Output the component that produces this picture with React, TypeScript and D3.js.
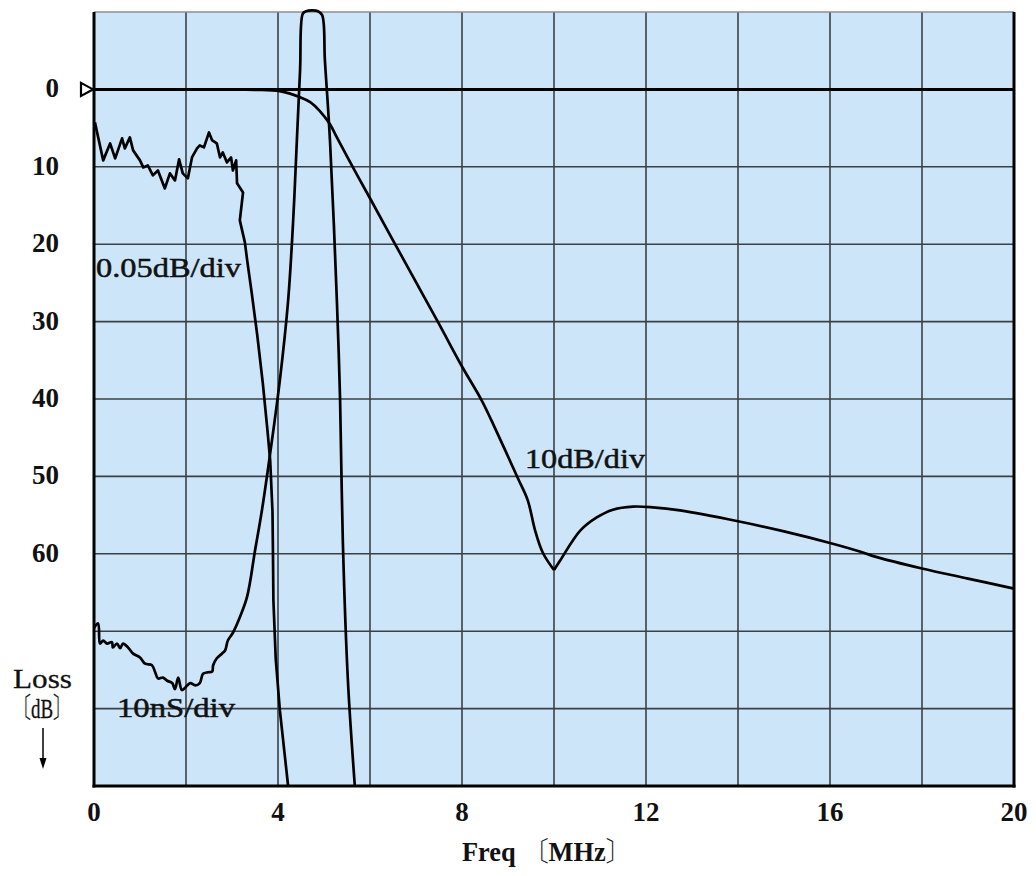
import React from "react";
import * as d3 from "d3";

// ---------- data ----------
const freqTickLabels = [0, 4, 8, 12, 16, 20];
const lossTickLabels = [0, 10, 20, 30, 40, 50, 60];
const gridFreq = [0, 2, 4, 6, 8, 10, 12, 14, 16, 18, 20];
const gridLoss = [-10, 0, 10, 20, 30, 40, 50, 60, 70, 80, 90];

// attenuation curve, 10dB/div (MHz, dB)
const mainFreq = [0, 1, 2, 3, 3.5, 4.04, 4.48, 4.7, 4.91, 5.13, 5.28, 5.63, 6.0, 6.5, 7.0, 7.5, 8.0, 8.43, 8.65, 9.22, 9.43, 9.59, 9.76, 10.0,
  10.13, 10.57, 10.93, 11.28, 11.72, 12.15, 12.74, 14, 15, 16, 16.7, 17, 18, 19, 20];
const mainLoss = [0, 0, 0, 0, 0.05, 0.22, 1.0, 1.64, 2.8, 4.5, 6.2, 10.08, 14.06, 19.5, 24.9, 30.3, 35.8, 40.2, 42.9, 50.3, 53.1, 57.0, 59.9, 62.1,
  60.9, 57.0, 55.3, 54.3, 53.9, 54.0, 54.4, 55.8, 57.1, 58.6, 59.8, 60.4, 61.9, 63.2, 64.5];
const notchFreq = 10.0;

// passband ripple, 0.05dB/div (display divisions)
const rippleFreq = [0.02, 0.2, 0.35, 0.46, 0.61, 0.67, 0.78, 0.85, 1.0, 1.07, 1.17, 1.28, 1.39, 1.54, 1.65, 1.76, 1.85, 1.93, 2.04, 2.13, 2.24, 2.3, 2.39, 2.5, 2.57, 2.67, 2.74, 2.8, 2.89, 2.98, 3.02, 3.09, 3.11, 3.24, 3.17, 3.28, 3.33, 3.43, 3.55, 3.67, 3.77, 3.83, 3.88, 3.89, 3.9, 3.95, 4.04, 4.22];
const rippleVal = [4.26, 9.17, 6.98, 8.91, 6.33, 7.62, 6.2, 7.88, 9.17, 10.08, 9.82, 11.11, 10.47, 12.79, 10.85, 11.76, 9.04, 10.85, 11.5, 8.79, 7.62, 7.24, 7.49, 5.56, 6.59, 6.98, 8.79, 8.14, 9.43, 8.79, 10.47, 9.17, 12.14, 13.31, 16.92, 19.77, 22.09, 26.36, 31.8, 37.98, 44.0, 47.93, 54.5, 59.56, 66.0, 73.5, 80.2, 90];

// group delay, 10nS/div (display divisions)
const delayFreq = [0, 0.09, 0.13, 0.2, 0.28, 0.39, 0.41, 0.5, 0.57, 0.63, 0.74, 0.85, 1.0, 1.11, 1.26, 1.33, 1.39, 1.5, 1.59, 1.7, 1.76, 1.83, 1.91, 1.98, 2.09, 2.2, 2.3, 2.37, 2.48, 2.57, 2.59, 2.67, 2.78, 2.85, 2.91, 3.02, 3.17, 3.33, 3.5, 3.65, 3.8, 4.04, 4.22, 4.33, 4.41, 4.48, 4.54, 4.61, 4.74, 4.87, 4.96, 5.02, 5.13, 5.28, 5.35, 5.41, 5.52, 5.67];
const delayVal = [69.6, 69.0, 71.6, 71.2, 71.6, 71.4, 72.1, 71.6, 72.2, 71.6, 72.1, 72.9, 73.4, 74.2, 74.4, 75.3, 76.1, 76.0, 76.4, 76.7, 77.5, 76.0, 77.6, 77.3, 76.7, 77.0, 76.7, 75.5, 75.3, 75.2, 74.4, 73.5, 72.9, 72.5, 71.2, 70.2, 68.2, 65.5, 59.6, 54.4, 48.3, 37.6, 27.3, 16.9, 6.6, -2.5, -9.8, -10.1, -10.2, -10.1, -9.6, -3.7, 6.6, 27.3, 40.2, 58.5, 76.4, 90];

// ---------- layout ----------
const W = 1036, H = 876;
const x = d3.scaleLinear().domain([0, 20]).range([94, 1014]);
const y = d3.scaleLinear().domain([-10, 90]).range([12, 786]);

type P = [number, number];
const zip = (a: number[], b: number[]): P[] => a.map((v, i) => [v, b[i]]);

const smooth = d3.line<P>().x(d => x(d[0])).y(d => y(d[1])).curve(d3.curveCatmullRom.alpha(0.5));
const jagged = d3.line<P>().x(d => x(d[0])).y(d => y(d[1])).curve(d3.curveLinear);

const SERIF = "'Liberation Serif', 'Times New Roman', 'Noto Serif CJK JP', 'Noto Sans CJK JP', serif";

export default function App() {
  const main = zip(mainFreq, mainLoss);
  const mainA = main.filter(d => d[0] <= notchFreq);
  const mainB = main.filter(d => d[0] >= notchFreq);
  const ripple = zip(rippleFreq, rippleVal);
  const delay = zip(delayFreq, delayVal);
  const x0 = x(0), x1 = x(20), yT = y(-10), yB = y(90);
  const curveStyle = { fill: "none", stroke: "#000", strokeWidth: 2.7, strokeLinejoin: "round" as const };
  const labelStyle = { fontFamily: SERIF, fontSize: 28, fill: "#111", stroke: "#111", strokeWidth: 0.5 };

  return (
    <svg width={W} height={H} style={{ position: "absolute", left: 0, top: 0, background: "#fff" }}>
      <rect x={x0} y={yT} width={x1 - x0} height={yB - yT} fill="#cce5f8" />
      {/* grid */}
      {gridFreq.slice(1, -1).map(f => (
        <line key={"vf" + f} x1={x(f)} x2={x(f)} y1={yT} y2={yB} stroke="#3a4046" strokeWidth={1.6} />
      ))}
      {gridLoss.slice(1, -1).filter(v => v !== 0).map(v => (
        <line key={"hl" + v} x1={x0} x2={x1} y1={y(v)} y2={y(v)} stroke="#3a4046" strokeWidth={1.6} />
      ))}
      {/* 0 dB reference */}
      <line x1={x0} x2={x1} y1={y(0)} y2={y(0)} stroke="#000" strokeWidth={3} />
      {/* frame */}
      <line x1={x0} x2={x1} y1={yT} y2={yT} stroke="#8a8f94" strokeWidth={1.6} />
      <line x1={x0} x2={x0} y1={yT} y2={yB + 1.5} stroke="#000" strokeWidth={3} />
      <line x1={x1} x2={x1} y1={yT} y2={yB + 1.5} stroke="#000" strokeWidth={3} />
      <line x1={x0 - 1.5} x2={x1 + 1.5} y1={yB} y2={yB} stroke="#000" strokeWidth={3} />

      {/* curves */}
      <path d={smooth(mainA) || ""} {...curveStyle} />
      <path d={smooth(mainB) || ""} {...curveStyle} />
      <path d={jagged(ripple) || ""} {...curveStyle} />
      <path d={smooth(delay) || ""} {...curveStyle} />

      {/* reference marker */}
      <path d={`M${x0 - 13},${y(0) - 6.5} L${x0 - 1},${y(0)} L${x0 - 13},${y(0) + 6.5} Z`} fill="#fff" stroke="#000" strokeWidth={2.2} />

      {/* y tick labels */}
      {lossTickLabels.map(v => (
        <text key={"yl" + v} x={59} y={y(v) + 8} textAnchor="end" fontFamily={SERIF} fontWeight="bold" fontSize={27} fill="#111">{v}</text>
      ))}
      {/* x tick labels */}
      {freqTickLabels.map(f => (
        <text key={"xl" + f} x={x(f)} y={821} textAnchor="middle" fontFamily={SERIF} fontWeight="bold" fontSize={27} fill="#111">{f}</text>
      ))}

      {/* axis titles */}
      <text x={462} y={861} fontFamily={SERIF} fontWeight="bold" fontSize={27} fill="#111" textLength={170} lengthAdjust="spacingAndGlyphs">Freq 〔MHz〕</text>
      <text x={13} y={688} fontFamily={SERIF} fontSize={27} fill="#111" stroke="#111" strokeWidth={0.3} textLength={59} lengthAdjust="spacingAndGlyphs">Loss</text>
      <text x={12} y={718} fontFamily={SERIF} fontSize={28} fill="#111" stroke="#111" strokeWidth={0.3} textLength={60} lengthAdjust="spacingAndGlyphs">〔dB〕</text>
      <line x1={43} x2={43} y1={728} y2={760} stroke="#000" strokeWidth={1.5} />
      <path d="M39.5,758 L46.5,758 L43,769 Z" fill="#000" />

      {/* curve labels */}
      <text x={96} y={277} {...labelStyle} textLength={145} lengthAdjust="spacingAndGlyphs">0.05dB/div</text>
      <text x={525} y={468} {...labelStyle} textLength={120} lengthAdjust="spacingAndGlyphs">10dB/div</text>
      <text x={117} y={717} {...labelStyle} textLength={118} lengthAdjust="spacingAndGlyphs">10nS/div</text>
    </svg>
  );
}
